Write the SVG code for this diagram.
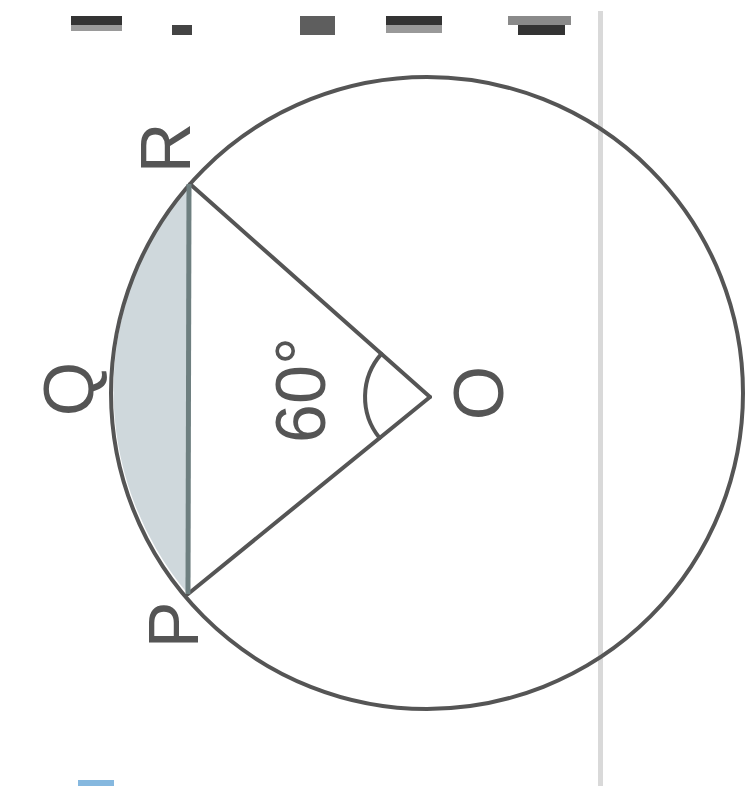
<svg xmlns="http://www.w3.org/2000/svg" width="750" height="786" viewBox="0 0 750 786">
<style>
.ln{stroke:#555;stroke-width:4;fill:none;stroke-linecap:round}
.lbl{font-family:"Liberation Sans",Arial,sans-serif;font-size:70px;fill:#555;text-anchor:middle}
</style>
<rect width="750" height="786" fill="#fff"/>
<g id="topmarks">
<rect x="71" y="16" width="51" height="9" fill="#333"/>
<rect x="71" y="25" width="51" height="6" fill="#9a9a9a"/>
<rect x="172" y="25" width="20" height="10" fill="#444"/>
<rect x="300" y="16" width="35" height="19" fill="#5e5e5e"/>
<rect x="386" y="16" width="56" height="9" fill="#333"/>
<rect x="386" y="25" width="56" height="8" fill="#999"/>
<rect x="508" y="16" width="63" height="9" fill="#8a8a8a"/>
<rect x="518" y="25" width="47" height="10" fill="#333"/>
</g>
<rect id="divider" x="598" y="11" width="5" height="775" fill="#d9d9d9"/>
<rect id="bluemark" x="78" y="780" width="36" height="6" fill="#86b8df"/>
<g id="segment">
<path d="M190 184 A316 316 0 0 0 188 594 Z" fill="#cfd8dc"/>
</g>
<g id="circle">
<circle cx="427" cy="393" r="316" class="ln"/>
</g>
<g id="connectors">
<line x1="190" y1="184" x2="430" y2="397" class="ln"/>
<line x1="188" y1="594" x2="430" y2="397" class="ln"/>
<line x1="189" y1="184" x2="188" y2="594" stroke="#6e7f80" stroke-width="5"/>
<path d="M381.4 353.9 A65 65 0 0 0 379.6 438" class="ln"/>
</g>
<g id="labels">
<text class="lbl" transform="translate(190,148) rotate(-90)">R</text>
<text class="lbl" transform="translate(93,389) rotate(-90)">Q</text>
<text class="lbl" transform="translate(198,625) rotate(-90)">P</text>
<text class="lbl" transform="translate(503,393) rotate(-90)">O</text>
<text class="lbl" transform="translate(325,390) rotate(-90)">60°</text>
</g>
</svg>
